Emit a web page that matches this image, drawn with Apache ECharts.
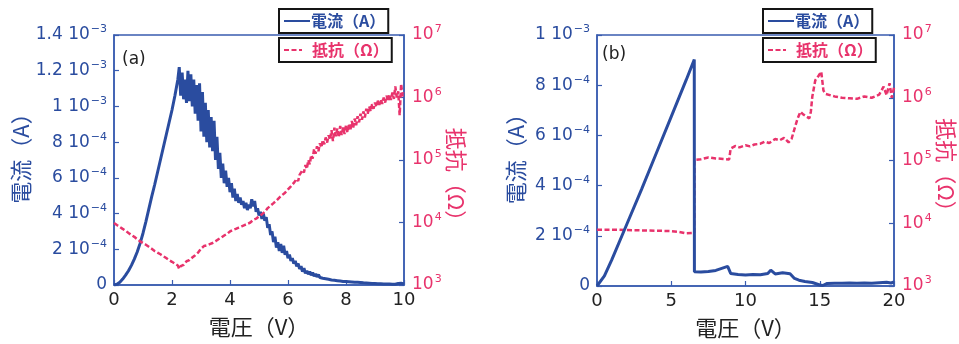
<!DOCTYPE html>
<html>
<head>
<meta charset="utf-8">
<script src="https://cdn.jsdelivr.net/npm/echarts@6/dist/echarts.min.js"></script>
<style>
  html, body { margin: 0; padding: 0; background: #fff; }
  #chart { width: 959px; height: 344px; }
</style>
</head>
<body>
<div id="chart"></div>
<script>
// ---- Panel (a): voltage sweep 0–10 V ----
const voltageA = [
  0, 0.1, 0.2, 0.3, 0.4, 0.5, 0.6, 0.7, 0.8, 0.9, 1, 1.1, 1.2, 1.3, 1.4, 1.5, 1.6, 1.7, 1.8, 1.9, 2, 2.1, 2.2,
  2.25, 2.3, 2.35, 2.4, 2.45, 2.5, 2.55, 2.6, 2.65, 2.7, 2.75, 2.8, 2.85, 2.9, 2.95, 3, 3.05, 3.1, 3.15, 3.2,
  3.25, 3.3, 3.35, 3.4, 3.45, 3.5, 3.55, 3.6, 3.65, 3.7, 3.75, 3.8, 3.85, 3.9, 3.95, 4, 4.05, 4.1, 4.15, 4.2,
  4.25, 4.3, 4.35, 4.4, 4.45, 4.5, 4.55, 4.6, 4.65, 4.7, 4.75, 4.8, 4.85, 4.9, 4.95, 5, 5.05, 5.1, 5.15, 5.2,
  5.25, 5.3, 5.35, 5.4, 5.45, 5.5, 5.55, 5.6, 5.65, 5.7, 5.75, 5.8, 5.85, 5.9, 5.95, 6, 6.05, 6.1, 6.15, 6.2,
  6.25, 6.3, 6.35, 6.4, 6.45, 6.5, 6.55, 6.6, 6.65, 6.7, 6.75, 6.8, 6.85, 6.9, 6.95, 7, 7.05, 7.1, 7.15, 7.2,
  7.25, 7.3, 7.35, 7.4, 7.45, 7.5, 7.55, 7.6, 7.65, 7.7, 7.75, 7.8, 7.85, 7.9, 7.95, 8, 8.05, 8.1, 8.15, 8.2,
  8.25, 8.3, 8.35, 8.4, 8.45, 8.5, 8.55, 8.6, 8.65, 8.7, 8.75, 8.8, 8.85, 8.9, 8.95, 9, 9.05, 9.1, 9.15, 9.2,
  9.25, 9.3, 9.35, 9.4, 9.45, 9.5, 9.55, 9.6, 9.65, 9.7, 9.75, 9.8, 9.85, 9.9, 9.95, 10
];
// current in A
const currentA = [
  0, 0.04e-4, 0.15e-4, 0.33e-4, 0.55e-4, 0.8e-4, 1.1e-4, 1.45e-4, 1.85e-4, 2.33e-4, 2.9e-4, 3.55e-4,
  4.25e-4, 4.95e-4, 5.6e-4, 6.3e-4, 7.0e-4, 7.7e-4, 8.4e-4, 9.1e-4, 9.8e-4, 10.6e-4, 11.5e-4,
  12.2e-4, 10.6e-4, 11.9e-4, 10.4e-4, 11.5e-4, 10.2e-4, 12.0e-4, 10.3e-4, 11.8e-4, 10.0e-4, 11.5e-4, 9.6e-4, 11.2e-4, 9.2e-4, 11.3e-4, 8.6e-4, 10.8e-4, 8.3e-4, 10.2e-4, 8.0e-4,
  9.8e-4, 7.7e-4, 9.4e-4, 7.5e-4, 9.2e-4, 7.0e-4, 8.3e-4, 6.5e-4, 7.4e-4, 6.0e-4, 6.8e-4, 5.7e-4, 6.4e-4, 5.5e-4, 6.0e-4, 5.2e-4, 5.7e-4, 4.9e-4, 5.4e-4, 4.7e-4,
  5.1e-4, 4.6e-4, 4.9e-4, 4.5e-4, 4.7e-4, 4.3e-4, 4.6e-4, 4.2e-4, 4.5e-4, 4.3e-4, 4.8e-4, 4.4e-4, 4.7e-4, 4.1e-4, 4.3e-4, 3.9e-4, 4.1e-4, 3.7e-4, 4.0e-4, 3.6e-4,
  3.8e-4, 3.2e-4, 3.4e-4, 2.8e-4, 3.0e-4, 2.4e-4, 2.7e-4, 2.1e-4, 2.4e-4, 1.9e-4, 2.3e-4, 1.8e-4, 2.2e-4, 1.7e-4, 1.9e-4, 1.5e-4, 1.7e-4, 1.35e-4, 1.5e-4, 1.2e-4,
  1.35e-4, 1.05e-4, 1.2e-4, 0.9e-4, 1.05e-4, 0.75e-4, 0.95e-4, 0.65e-4, 0.8e-4, 0.6e-4, 0.75e-4, 0.55e-4, 0.7e-4, 0.5e-4, 0.62e-4, 0.45e-4, 0.58e-4, 0.42e-4, 0.5e-4, 0.38e-4,
  0.47e-4, 0.35e-4, 0.42e-4, 0.32e-4, 0.38e-4, 0.28e-4, 0.35e-4, 0.26e-4, 0.32e-4, 0.24e-4, 0.3e-4, 0.22e-4, 0.28e-4, 0.2e-4, 0.26e-4, 0.19e-4, 0.24e-4, 0.18e-4, 0.23e-4, 0.17e-4,
  0.22e-4, 0.16e-4, 0.21e-4, 0.15e-4, 0.2e-4, 0.14e-4, 0.18e-4, 0.12e-4, 0.16e-4, 0.11e-4, 0.15e-4, 0.1e-4, 0.13e-4, 0.09e-4, 0.12e-4, 0.08e-4, 0.11e-4, 0.07e-4, 0.1e-4, 0.07e-4,
  0.09e-4, 0.06e-4, 0.08e-4, 0.05e-4, 0.08e-4, 0.05e-4, 0.07e-4, 0.04e-4, 0.07e-4, 0.04e-4, 0.06e-4, 0.08e-4, 0.05e-4, 0.1e-4, 0.05e-4, 0.06e-4
];
// resistance in Ω
const resistanceA = [
  9.8e3, 9.1e3, 8.5e3, 7.9e3, 7.4e3, 6.8e3, 6.3e3, 5.9e3, 5.4e3, 5.0e3, 4.7e3, 4.4e3,
  4.1e3, 3.8e3, 3.5e3, 3.3e3, 3.1e3, 2.9e3, 2.7e3, 2.5e3, 2.35e3, 2.2e3, 2.05e3,
  1.8e3, 2.0e3, 1.9e3, 2.1e3, 2.05e3, 2.4e3, 2.25e3, 2.5e3, 2.4e3, 2.75e3, 2.6e3, 3.0e3, 2.9e3, 3.3e3, 3.55e3, 3.8e3, 3.6e3, 4.2e3, 4.0e3, 4.3e3,
  4.1e3, 4.5e3, 4.3e3, 4.7e3, 4.6e3, 5.0e3, 4.9e3, 5.4e3, 5.2e3, 5.75e3, 5.6e3, 6.2e3, 6.0e3, 6.6e3, 6.8e3, 7.2e3, 7.1e3, 7.6e3, 7.4e3, 7.9e3,
  7.8e3, 8.3e3, 8.1e3, 8.7e3, 8.5e3, 9.1e3, 8.9e3, 9.5e3, 9.3e3, 1.0e4, 1.02e4, 1.1e4, 1.07e4, 1.15e4, 1.17e4, 1.26e4, 1.23e4, 1.35e4, 1.38e4, 1.48e4,
  1.55e4, 1.7e4, 1.66e4, 1.86e4, 1.82e4, 2.04e4, 2.0e4, 2.24e4, 2.3e4, 2.5e4, 2.45e4, 2.75e4, 2.7e4, 3.0e4, 3.1e4, 3.4e4, 3.3e4, 3.8e4, 3.7e4, 4.3e4,
  4.1e4, 5.0e4, 4.6e4, 5.8e4, 5.4e4, 6.9e4, 6.3e4, 8.3e4, 7.2e4, 1.0e5, 8.5e4, 1.2e5, 1.05e5, 1.5e5, 1.26e5, 1.66e5, 1.38e5, 1.86e5, 1.58e5, 2.1e5,
  1.78e5, 2.3e5, 1.9e5, 2.5e5, 2.1e5, 3.0e5, 2.0e5, 3.3e5, 2.4e5, 3.2e5, 2.3e5, 3.5e5, 2.5e5, 3.3e5, 2.6e5, 3.6e5, 2.75e5, 3.8e5, 2.95e5, 4.2e5,
  3.3e5, 4.6e5, 3.6e5, 5.0e5, 4.0e5, 5.5e5, 4.4e5, 6.0e5, 4.8e5, 6.6e5, 5.5e5, 7.2e5, 6.0e5, 7.8e5, 6.6e5, 8.3e5, 7.1e5, 8.9e5, 7.6e5, 9.3e5,
  7.9e5, 1.0e6, 8.3e5, 1.07e6, 8.7e5, 1.12e6, 9.1e5, 1.2e6, 9.5e5, 1.5e6, 1.0e6, 1.26e6, 5.2e5, 1.66e6, 1.05e6, 1.2e6
];

// ---- Panel (b): voltage sweep 0–20 V ----
const voltageB_I = [0, 0.5, 1, 2, 3, 4, 5, 6, 6.55, 6.56, 7, 7.5, 8, 8.5, 8.8, 9.0, 9.5, 10, 10.5, 11, 11.5, 11.7, 12, 12.5, 13,
  13.3, 13.6, 14, 14.5, 15, 15.2, 15.5, 16, 16.5, 17, 17.5, 18, 18.5, 19, 19.5, 19.8, 20];
const currentB = [0, 4e-5, 1.05e-4, 2.45e-4, 3.85e-4, 5.3e-4, 6.75e-4, 8.2e-4, 9.02e-4, 5.7e-5, 5.6e-5, 5.8e-5, 6.2e-5, 7.2e-5, 7.8e-5,
  5.0e-5, 4.6e-5, 4.4e-5, 4.6e-5, 4.5e-5, 5.0e-5, 6.3e-5, 4.8e-5, 5.3e-5, 4.9e-5,
  3.0e-5, 2.3e-5, 1.8e-5, 1.4e-5, 4e-6, 2e-6, 1.0e-5, 1.1e-5, 1.1e-5, 1.2e-5, 1.1e-5, 1.2e-5, 1.1e-5, 1.3e-5, 1.5e-5, 1.2e-5, 1.6e-5];
const voltageB_R = [0, 0.5, 1, 2, 3, 4, 5, 5.5, 6, 6.55, 6.56, 7, 7.5, 8, 8.5, 8.9, 9.0, 9.3, 9.6, 10, 10.3, 10.6, 11, 11.3, 11.6, 12,
  12.3, 12.6, 12.9, 13.1, 13.3, 13.5, 13.7, 13.9, 14.1, 14.3, 14.4, 14.5, 14.7, 14.9, 15.1, 15.25, 15.4,
  16, 16.5, 17, 17.5, 18, 18.5, 19, 19.3, 19.5, 19.7, 19.85, 20];
const resistanceB = [7.9e3, 7.9e3, 7.9e3, 7.8e3, 7.7e3, 7.6e3, 7.5e3, 7.3e3, 6.9e3, 7.0e3,
  1.02e5, 1.05e5, 1.12e5, 1.08e5, 1.06e5, 1.04e5,
  1.55e5, 1.7e5, 1.62e5, 1.75e5, 1.68e5, 1.8e5, 1.85e5, 2.0e5, 1.9e5, 2.2e5,
  2.1e5, 2.3e5, 1.95e5, 2.2e5, 3.2e5, 4.6e5, 6.0e5, 5.4e5, 5.0e5, 4.7e5,
  6.0e5, 1.05e6, 1.9e6, 2.2e6, 2.6e6, 1.3e6, 1.15e6,
  1.05e6, 1.0e6, 9.8e5, 9.6e5, 1.05e6, 1.0e6, 1.12e6,
  1.5e6, 1.1e6, 1.7e6, 1.0e6, 1.45e6];

// axis ranges and tick steps
const xTicksA = { min: 0, max: 10, interval: 2 };
const xTicksB = { min: 0, max: 20, interval: 5 };
const currentTicksA = { min: 0, max: 1.4e-3, interval: 2e-4 };
const currentTicksB = { min: 0, max: 1e-3, interval: 2e-4 };
const resistanceRange = { min: 1e3, max: 1e7 };

const seriesNames = { current: '電流（A）', resistance: '抵抗（Ω）' };
const xName = '電圧（V）';

// ---- styling ----
const BLUE = '#2a4c9f';
const AXIS_BLUE = '#3a5cb0';
const PINK = '#e8336c';
const FONT = "'DejaVu Sans', 'Noto Sans CJK JP', sans-serif";
const CJK_FONT = "'Noto Sans CJK JP', sans-serif";

const zip = (xs, ys) => xs.map((x, i) => [x, ys[i]]);

function sciLabel(v) {
  if (v === 0) return '{m|0}';
  const e = Math.floor(Math.log10(v) + 1e-9);
  const m = Math.round(v / Math.pow(10, e) * 10) / 10;
  return '{m|' + m + ' 10}{e|\u2212' + (-e) + '}';
}
function decadeLabel(v) {
  return '{m|10}{e|' + Math.round(Math.log10(v)) + '}';
}
function richFor(color) {
  return {
    m: { fontSize: 17, color: color, fontFamily: FONT, lineHeight: 22 },
    e: { fontSize: 11, color: color, fontFamily: FONT, lineHeight: 12, verticalAlign: 'top', padding: [0, 0, 0, 1] }
  };
}

function xAxisFor(gridIndex, ticks) {
  return {
    gridIndex, type: 'value', min: ticks.min, max: ticks.max, interval: ticks.interval,
    name: xName, nameLocation: 'middle', nameGap: 31,
    nameTextStyle: { fontSize: 22, color: '#222', fontFamily: CJK_FONT },
    axisLine: { lineStyle: { color: AXIS_BLUE, width: 1.5 } },
    axisTick: { inside: true, length: 5, lineStyle: { color: AXIS_BLUE, width: 1.2 } },
    axisLabel: { fontSize: 18, color: '#222', margin: 6, fontFamily: FONT, showMinLabel: true, showMaxLabel: true },
    splitLine: { show: false }
  };
}
function currentAxisFor(gridIndex, ticks, gap) {
  return {
    gridIndex, type: 'value', position: 'left', min: ticks.min, max: ticks.max, interval: ticks.interval,
    name: seriesNames.current, nameLocation: 'middle', nameGap: gap, nameRotate: 90,
    nameTextStyle: { fontSize: 22, color: BLUE, fontFamily: CJK_FONT, padding: [0, 0, 0, 14] },
    axisLine: { lineStyle: { color: AXIS_BLUE, width: 1.5 } },
    axisTick: { inside: true, length: 5, lineStyle: { color: AXIS_BLUE, width: 1.2 } },
    axisLabel: { formatter: sciLabel, rich: richFor(BLUE), margin: 7 },
    splitLine: { show: false }
  };
}
function resistanceAxisFor(gridIndex, gap, shift) {
  return {
    gridIndex, type: 'log', logBase: 10, position: 'right', min: resistanceRange.min, max: resistanceRange.max,
    name: seriesNames.resistance, nameLocation: 'middle', nameGap: gap, nameRotate: -90,
    nameTextStyle: { fontSize: 22, color: PINK, fontFamily: CJK_FONT, padding: [0, 0, 0, shift] },
    axisLine: { lineStyle: { color: AXIS_BLUE, width: 1.5 } },
    axisTick: { inside: true, length: 5, lineStyle: { color: AXIS_BLUE, width: 1.2 } },
    minorTick: { show: false },
    axisLabel: { formatter: decadeLabel, rich: richFor(PINK), margin: 8 },
    splitLine: { show: false }
  };
}
function legendBox(left, top, name, color, iconWidth, textGap) {
  return {
    left, top, orient: 'horizontal', data: [name], z: 20,
    backgroundColor: '#fff', borderColor: '#151515', borderWidth: 2, borderRadius: 0,
    padding: [4, 3, 4, 4], itemWidth: iconWidth, itemHeight: 14, itemGap: 4,
    selectedMode: false,
    // line-only key: hide the marker drawn in the middle of the key line
    itemStyle: { color: 'rgba(0,0,0,0)', borderColor: 'rgba(0,0,0,0)', borderWidth: 0, opacity: 0 },
    textStyle: { color: color, fontSize: 16, fontWeight: 'bold', fontFamily: CJK_FONT, padding: [0, 0, 0, textGap] }
  };
}

const currentLine = { color: BLUE, width: 3 };
const resistanceLine = { color: PINK, width: 2.5, type: [5, 2.5] };

const chart = echarts.init(document.getElementById('chart'), null, { renderer: 'canvas' });
chart.setOption({
  animation: false,
  backgroundColor: '#fff',
  textStyle: { fontFamily: FONT },
  grid: [
    { left: 114, top: 35, width: 290, height: 250, show: true, borderColor: AXIS_BLUE, borderWidth: 1.5, backgroundColor: 'transparent', outerBoundsMode: 'none' },
    { left: 597, top: 35, width: 297, height: 251, show: true, borderColor: AXIS_BLUE, borderWidth: 1.5, backgroundColor: 'transparent', outerBoundsMode: 'none' }
  ],
  xAxis: [xAxisFor(0, xTicksA), xAxisFor(1, xTicksB)],
  yAxis: [
    currentAxisFor(0, currentTicksA, 78),
    resistanceAxisFor(0, 36, 40),
    currentAxisFor(1, currentTicksB, 70),
    resistanceAxisFor(1, 41, 20)
  ],
  legend: [
    legendBox(279, 9, seriesNames.current, BLUE, 26, -4),
    legendBox(279, 38, seriesNames.resistance, PINK, 18, 5),
    legendBox(763, 9, seriesNames.current, BLUE, 26, -4),
    legendBox(763, 38, seriesNames.resistance, PINK, 18, 5)
  ],
  graphic: [
    { type: 'text', left: 122, top: 51, style: { text: '(a)', fontSize: 17, fill: '#222', fontFamily: FONT } },
    { type: 'text', left: 602, top: 46, style: { text: '(b)', fontSize: 17, fill: '#222', fontFamily: FONT } }
  ],
  series: [
    { name: seriesNames.current, type: 'line', xAxisIndex: 0, yAxisIndex: 0, data: zip(voltageA, currentA),
      symbol: 'none', lineStyle: currentLine, itemStyle: { color: BLUE }, z: 2 },
    { name: seriesNames.resistance, type: 'line', xAxisIndex: 0, yAxisIndex: 1, data: zip(voltageA, resistanceA),
      symbol: 'none', lineStyle: resistanceLine, itemStyle: { color: PINK }, z: 3 },
    { name: seriesNames.resistance, type: 'line', xAxisIndex: 1, yAxisIndex: 3, data: zip(voltageB_R, resistanceB),
      symbol: 'none', lineStyle: resistanceLine, itemStyle: { color: PINK }, z: 2 },
    { name: seriesNames.current, type: 'line', xAxisIndex: 1, yAxisIndex: 2, data: zip(voltageB_I, currentB),
      symbol: 'none', lineStyle: currentLine, itemStyle: { color: BLUE }, z: 3 }
  ]
});
</script>
</body>
</html>
